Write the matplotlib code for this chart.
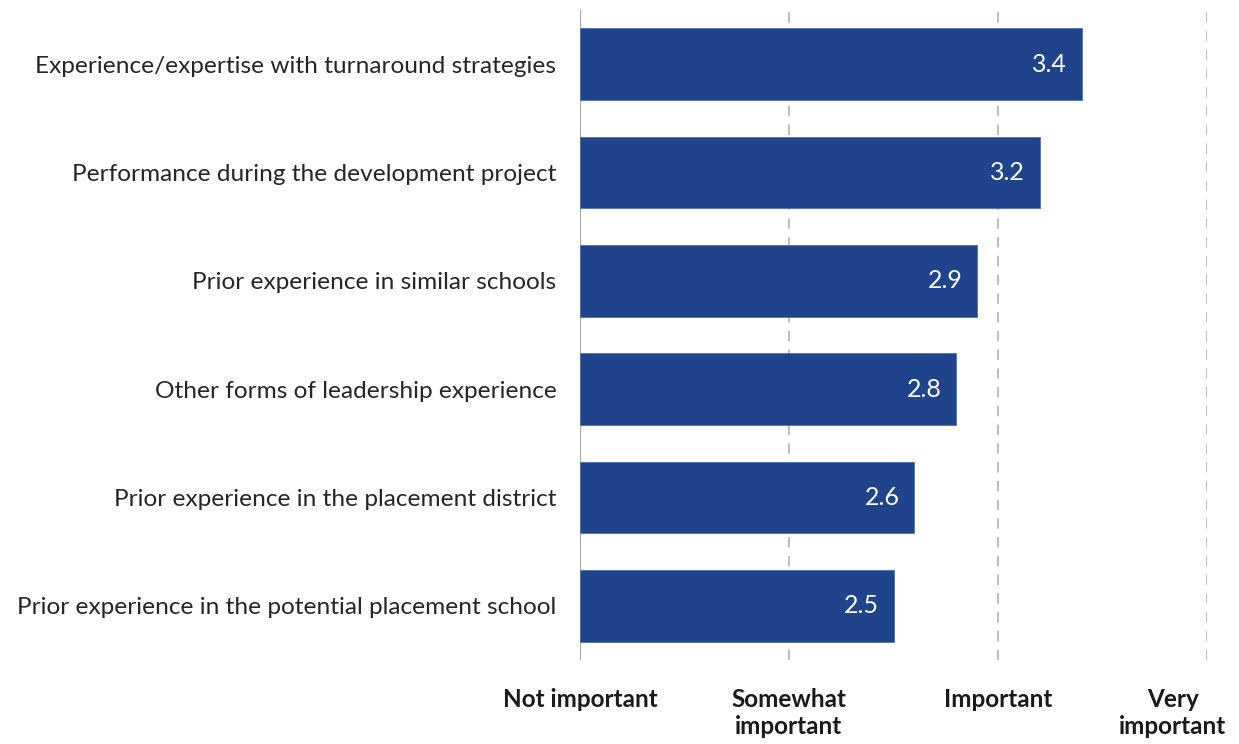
import matplotlib.pyplot as plt
from matplotlib.transforms import blended_transform_factory, offset_copy

plt.rcParams['font.family'] = ['Lato', 'DejaVu Sans']

factors = [
    "Experience/expertise with turnaround strategies",
    "Performance during the development project",
    "Prior experience in similar schools",
    "Other forms of leadership experience",
    "Prior experience in the placement district",
    "Prior experience in the potential placement school",
]
ratings = [3.4, 3.2, 2.9, 2.8, 2.6, 2.5]
scale_values = [1, 2, 3, 4]
scale_labels = ["Not important", "Somewhat\nimportant", "Important", "Very\nimportant"]

BAR_COLOR = "#1F448B"

fig = plt.figure(figsize=(12.39, 7.44), dpi=100)
ax = fig.add_axes([580 / 1239, 1 - 660 / 744, 627 / 1239, 650 / 744])

y = list(range(len(factors)))
left = scale_values[0]
bars = ax.barh(y, [r - left for r in ratings], left=left, height=0.66,
               color=BAR_COLOR, edgecolor="#4F6FAF", linewidth=0.6, zorder=3)

for bar, r in zip(bars, ratings):
    ax.text(r - 0.07, bar.get_y() + bar.get_height() / 2, f"{r:.1f}",
            ha="right", va="center", color="white", fontsize=18, zorder=4)

ax.set_xlim(scale_values[0], scale_values[-1])
ax.set_ylim(len(factors) - 0.5, -0.5)

# dashed reference lines at each point of the rating scale
for v in scale_values[1:]:
    ax.axvline(v, color="#BFBFBF", linestyle=(0, (5, 4)), linewidth=1.5, zorder=1)
ax.axvline(scale_values[0], color="#A6A6A6", linewidth=1.5, zorder=2)

ax.set_yticks(y)
ax.set_yticklabels(factors, fontsize=17.6, color="#262626")
ax.tick_params(axis="y", length=0, pad=17)

# scale labels under the axis; the last one is pulled in to stay on the canvas
ax.set_xticks(scale_values)
ax.set_xticklabels([])
ax.tick_params(axis="x", length=0)
trans = blended_transform_factory(ax.transData, ax.transAxes)
for i, (v, lab) in enumerate(zip(scale_values, scale_labels)):
    last = i == len(scale_values) - 1
    t = offset_copy(trans, fig=fig, x=(-34 if last else 0), y=-28, units="dots")
    ax.text(v, 0, lab, transform=t, ha="center", va="top", ma="center",
            fontsize=17.5, fontweight="bold", color="#1A1A1A", linespacing=1.2)

for s in ax.spines.values():
    s.set_visible(False)

fig.savefig("out.png", dpi=100)
plt.close(fig)
